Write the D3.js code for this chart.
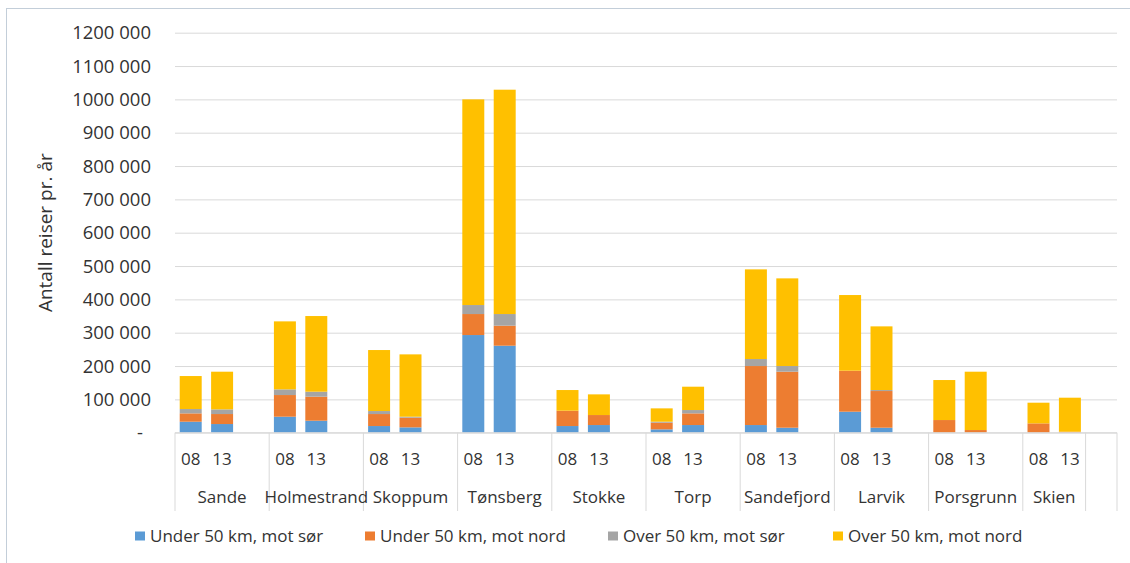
<!DOCTYPE html>
<html>
<head>
<meta charset="utf-8">
<script src="https://cdn.jsdelivr.net/npm/d3@7"></script>
<style>
  html, body { margin: 0; padding: 0; background: #fff; }
  svg { display: block; font-family: "Open Sans", sans-serif; }
</style>
</head>
<body>
<svg id="chart" width="1130" height="563"></svg>
<script>
// ---- data ----
const places = ["Sande","Holmestrand","Skoppum","Tønsberg","Stokke","Torp","Sandefjord","Larvik","Porsgrunn","Skien"];
const years = ["08","13"];
const seriesNames = ["Under 50 km, mot sør","Under 50 km, mot nord","Over 50 km, mot sør","Over 50 km, mot nord"];
const seriesColors = ["#5B9BD5","#ED7D31","#A5A5A5","#FFC000"];
// values per place, order: 08, 13
const underSor  = [33000,26000, 48000,36000, 20000,16000, 293000,261000, 20000,23000, 10000,23000, 23000,15000, 63000,15000, 0,0, 0,0];
const underNord = [25000,30000, 65000,72000, 36000,29000, 63000,60000, 46000,30000, 20000,35000, 177000,168000, 123000,110000, 38000,8000, 28000,3000];
const overSor   = [13000,14000, 17000,15000, 9000,3000, 27000,35000, 0,0, 3000,10000, 21000,17000, 0,3000, 0,0, 0,0];
const overNord  = [99000,113000, 204000,227000, 183000,187000, 617000,673000, 62000,62000, 40000,70000, 269000,263000, 227000,191000, 120000,175000, 62000,102000];
const yTicks = [0,100000,200000,300000,400000,500000,600000,700000,800000,900000,1000000,1100000,1200000];
const yTitle = "Antall reiser pr. år";

// ---- build rows & slots ----
const keys = ["s0","s1","s2","s3"];
const rows = [];
const slots = [];
const groups = [];
places.forEach((p, i) => {
  const g = { name: p, slots: [] };
  years.forEach((yr, j) => {
    const k = i * 2 + j;
    const id = p + "|" + yr;
    rows.push({ id, year: yr, s0: underSor[k], s1: underNord[k], s2: overSor[k], s3: overNord[k] });
    slots.push(id); g.slots.push(id);
  });
  if (i < places.length - 1) { const gap = p + "|gap"; slots.push(gap); g.slots.push(gap); }
  groups.push(g);
});
const endSlot = "end|gap";
slots.push(endSlot);
groups.push({ name: "", slots: [endSlot] });

// ---- layout ----
const svg = d3.select("#chart");
const pLeft = 175, pRight = 1117, pTop = 32.7, pBottom = 432.7;
const textColor = "#333333", gridColor = "#d9d9d9";

svg.append("rect").attr("x", 6.5).attr("y", 8.5).attr("width", 1200).attr("height", 700)
  .attr("fill", "#fff").attr("stroke", "#c3ced9").attr("stroke-width", 1);

const x = d3.scaleBand().domain(slots).range([pLeft, pRight]).paddingInner(0.3).paddingOuter(0.15);
const y = d3.scaleLinear().domain([0, 1200000]).range([pBottom, pTop]);
const step = x.step();
const slotLeft = id => x(id) - (step - x.bandwidth()) / 2;

// gridlines
svg.append("g").attr("transform", `translate(${pLeft},0)`)
  .call(d3.axisLeft(y).tickValues(yTicks).tickSize(-(pRight - pLeft)).tickFormat(""))
  .call(g => g.select(".domain").remove())
  .call(g => g.selectAll("line").attr("stroke", gridColor).attr("stroke-width", 1));

// y tick labels
const fmt = v => v === 0 ? "-" : `${Math.round(v / 1000)} 000`;
svg.append("g").selectAll("text").data(yTicks).join("text")
  .attr("x", d => d === 0 ? 143 : 151)
  .attr("y", d => y(d))
  .attr("dy", "0.35em")
  .attr("text-anchor", "end")
  .attr("fill", textColor)
  .style("font-size", "18.5px")
  .text(fmt);

// y title
svg.append("text")
  .attr("transform", `translate(52,${(pTop + pBottom) / 2}) rotate(-90)`)
  .attr("text-anchor", "middle")
  .attr("fill", textColor)
  .style("font-size", "19px")
  .text(yTitle);

// bars
const stacked = d3.stack().keys(keys)(rows);
svg.append("g").selectAll("g").data(stacked).join("g")
  .attr("fill", (d, i) => seriesColors[i])
  .selectAll("rect").data(d => d).join("rect")
  .attr("x", d => x(d.data.id))
  .attr("width", x.bandwidth())
  .attr("y", d => y(d[1]))
  .attr("height", d => y(d[0]) - y(d[1]));

// category axis
const axisG = svg.append("g");
axisG.append("line").attr("x1", pLeft).attr("x2", pRight).attr("y1", pBottom).attr("y2", pBottom)
  .attr("stroke", gridColor);
const sepX = groups.map(g => slotLeft(g.slots[0])).concat([pRight]);
axisG.selectAll("line.sep").data(sepX).join("line").attr("class", "sep")
  .attr("x1", d => d).attr("x2", d => d).attr("y1", pBottom).attr("y2", 511)
  .attr("stroke", gridColor);

// year labels
axisG.selectAll("text.yr").data(rows).join("text").attr("class", "yr")
  .attr("x", d => x(d.id) + x.bandwidth() / 2)
  .attr("y", 459).attr("dy", "0.35em")
  .attr("text-anchor", "middle").attr("fill", textColor)
  .style("font-size", "17px")
  .text(d => d.year);

// group labels
axisG.selectAll("text.grp").data(groups.filter(g => g.name)).join("text").attr("class", "grp")
  .attr("x", g => {
    const a = slotLeft(g.slots[0]);
    const b = slotLeft(g.slots[g.slots.length - 1]) + step;
    return (a + b) / 2;
  })
  .attr("y", 497.5).attr("dy", "0.35em")
  .attr("text-anchor", "middle").attr("fill", textColor)
  .style("font-size", "17px")
  .text(g => g.name);

// legend
const legendX = [135, 365, 608, 833];
const lg = svg.append("g").selectAll("g").data(seriesNames).join("g")
  .attr("transform", (d, i) => `translate(${legendX[i]},536)`);
lg.append("rect").attr("x", 0).attr("y", -4.5).attr("width", 10).attr("height", 9)
  .attr("fill", (d, i) => seriesColors[i]);
lg.append("text").attr("x", 15).attr("y", 0).attr("dy", "0.35em")
  .attr("fill", textColor).style("font-size", "17px").text(d => d);
</script>
</body>
</html>
